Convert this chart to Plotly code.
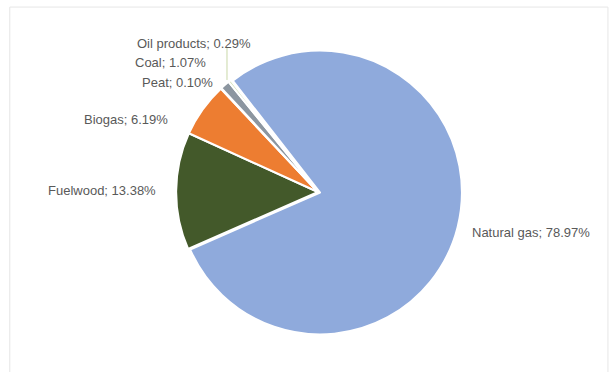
import plotly.graph_objects as go

categories = ["Natural gas", "Fuelwood", "Biogas", "Peat", "Coal", "Oil products"]
shares = [78.97, 13.38, 6.19, 0.10, 1.07, 0.29]
colors = ["#8FAADC", "#43592A", "#ED7D31", "#A5A5A5", "#8C96A0", "#C9D9A8"]

# label anchor positions in paper coordinates (x, y, xanchor)
label_pos = [(0.769, 0.374, "left"), (0.259, 0.487, "right"), (0.278, 0.680, "right"),
             (0.352, 0.777, "right"), (0.340, 0.831, "right"), (0.414, 0.884, "right")]

fig = go.Figure(go.Pie(
    labels=categories,
    values=shares,
    sort=False,
    direction="clockwise",
    rotation=322,
    marker=dict(colors=colors, line=dict(color="white", width=2)),
    pull=[0.015, 0, 0, 0, 0, 0],
    textinfo="none",
    hoverinfo="label+percent",
    domain=dict(x=[0.2848, 0.7561], y=[0.0968, 0.871]),
    showlegend=False,
))

for cat, val, (x, y, al) in zip(categories, shares, label_pos):
    fig.add_annotation(
        x=x, y=y, xref="paper", yref="paper",
        text=f"{cat}; {val:.2f}%",
        showarrow=False, xanchor=al, yanchor="middle",
        font=dict(family="Liberation Sans, Arial, sans-serif", size=13, color="#595959"),
    )

# thin leader line for the oil products label
fig.add_shape(type="line", xref="paper", yref="paper",
              x0=0.3715, y0=0.871, x1=0.3715, y1=0.785,
              line=dict(color="#C9D9A8", width=1))

# chart frame
fig.add_shape(type="rect", xref="paper", yref="paper",
              x0=0.016, y0=-0.02, x1=0.995, y1=0.981,
              line=dict(color="#E6E6E6", width=1))

fig.update_layout(
    width=611, height=372,
    margin=dict(l=0, r=0, t=0, b=0),
    paper_bgcolor="white",
    plot_bgcolor="white",
)

fig.write_html("out.html", config={"displayModeBar": False},
               post_script="document.body.style.margin='0';")
